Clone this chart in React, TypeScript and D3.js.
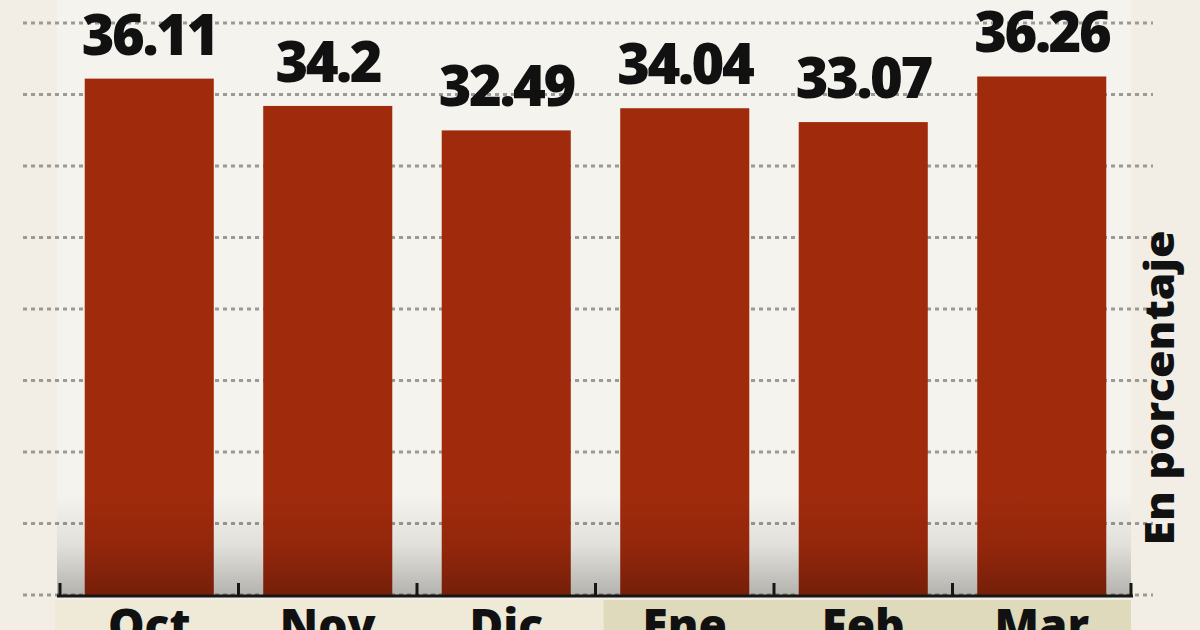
import React from "react";
import * as d3 from "d3";

const months = ["Oct", "Nov", "Dic", "Ene", "Feb", "Mar"];
const values = [36.11, 34.2, 32.49, 34.04, 33.07, 36.26];
const valueLabels = ["36.11", "34.2", "32.49", "34.04", "33.07", "36.26"];
const gridTicks = [0, 5, 10, 15, 20, 25, 30, 35, 40];
const axisTitle = "En porcentaje";

const W = 1200;
const H = 630;

export default function App() {
  const x = d3
    .scaleBand<string>()
    .domain(months)
    .range([60, 1131])
    .paddingInner(0.277)
    .paddingOuter(0.1385);
  const y = d3.scaleLinear().domain([0, 40]).range([595, 23]);
  const step = x.step();
  const half = (step * x.paddingInner()) / 2;
  const boundaries = months.map((m) => (x(m) as number) - half);
  boundaries.push((x(months[months.length - 1]) as number) + x.bandwidth() + half);
  const splitX = boundaries[3];

  return (
    <svg
      width={W}
      height={H}
      viewBox={`0 0 ${W} ${H}`}
      style={{ position: "fixed", left: 0, top: 0, display: "block" }}
    >
      <defs>
        <linearGradient id="shade" x1="0" y1="0" x2="0" y2="1">
          <stop offset="0" stopColor="#000" stopOpacity="0" />
          <stop offset="0.5" stopColor="#000" stopOpacity="0.08" />
          <stop offset="1" stopColor="#000" stopOpacity="0.27" />
        </linearGradient>
      </defs>
      <rect x={0} y={0} width={W} height={H} fill="#f2eee5" />
      <rect x={57} y={0} width={1131 - 57} height={596} fill="#f5f3ed" />
      {gridTicks.map((t) => (
        <line
          key={t}
          x1={23}
          x2={1153}
          y1={y(t)}
          y2={y(t)}
          stroke="#9c9a96"
          strokeWidth={3}
          strokeDasharray="4 4"
        />
      ))}
      {months.map((m, i) => (
        <rect
          key={m}
          x={x(m)}
          y={y(values[i])}
          width={x.bandwidth()}
          height={y(0) - y(values[i])}
          fill="#a02a0c"
        />
      ))}
      <rect x={57} y={495} width={1131 - 57} height={101} fill="url(#shade)" />
      <rect x={55} y={600} width={splitX + 8 - 55} height={30} fill="#efead8" />
      <rect x={splitX + 8} y={600} width={1131 - splitX - 8} height={30} fill="#dfdabc" />
      <line x1={57} x2={1133} y1={596} y2={596} stroke="#161616" strokeWidth={3} />
      {boundaries.map((b, i) => (
        <line key={i} x1={b} x2={b} y1={597} y2={583} stroke="#161616" strokeWidth={3} />
      ))}
      {months.map((m, i) => (
        <text
          key={m}
          x={(x(m) as number) + x.bandwidth() / 2}
          y={y(values[i]) - 24}
          textAnchor="middle"
          fontFamily="'Open Sans', sans-serif"
          fontWeight={800}
          fontSize={56}
          letterSpacing={-2.5}
          fill="#111"
        >
          {valueLabels[i]}
        </text>
      ))}
      {months.map((m) => (
        <text
          key={m}
          x={(x(m) as number) + x.bandwidth() / 2}
          y={642}
          textAnchor="middle"
          fontFamily="'Open Sans', sans-serif"
          fontWeight={800}
          fontSize={46}
          fill="#111"
        >
          {m}
        </text>
      ))}
      <text
        transform="translate(1174,388) rotate(-90)"
        textAnchor="middle"
        fontFamily="'Open Sans', sans-serif"
        fontWeight={800}
        fontSize={41}
        textLength={315}
        lengthAdjust="spacingAndGlyphs"
        fill="#111"
      >
        {axisTitle}
      </text>
    </svg>
  );
}
